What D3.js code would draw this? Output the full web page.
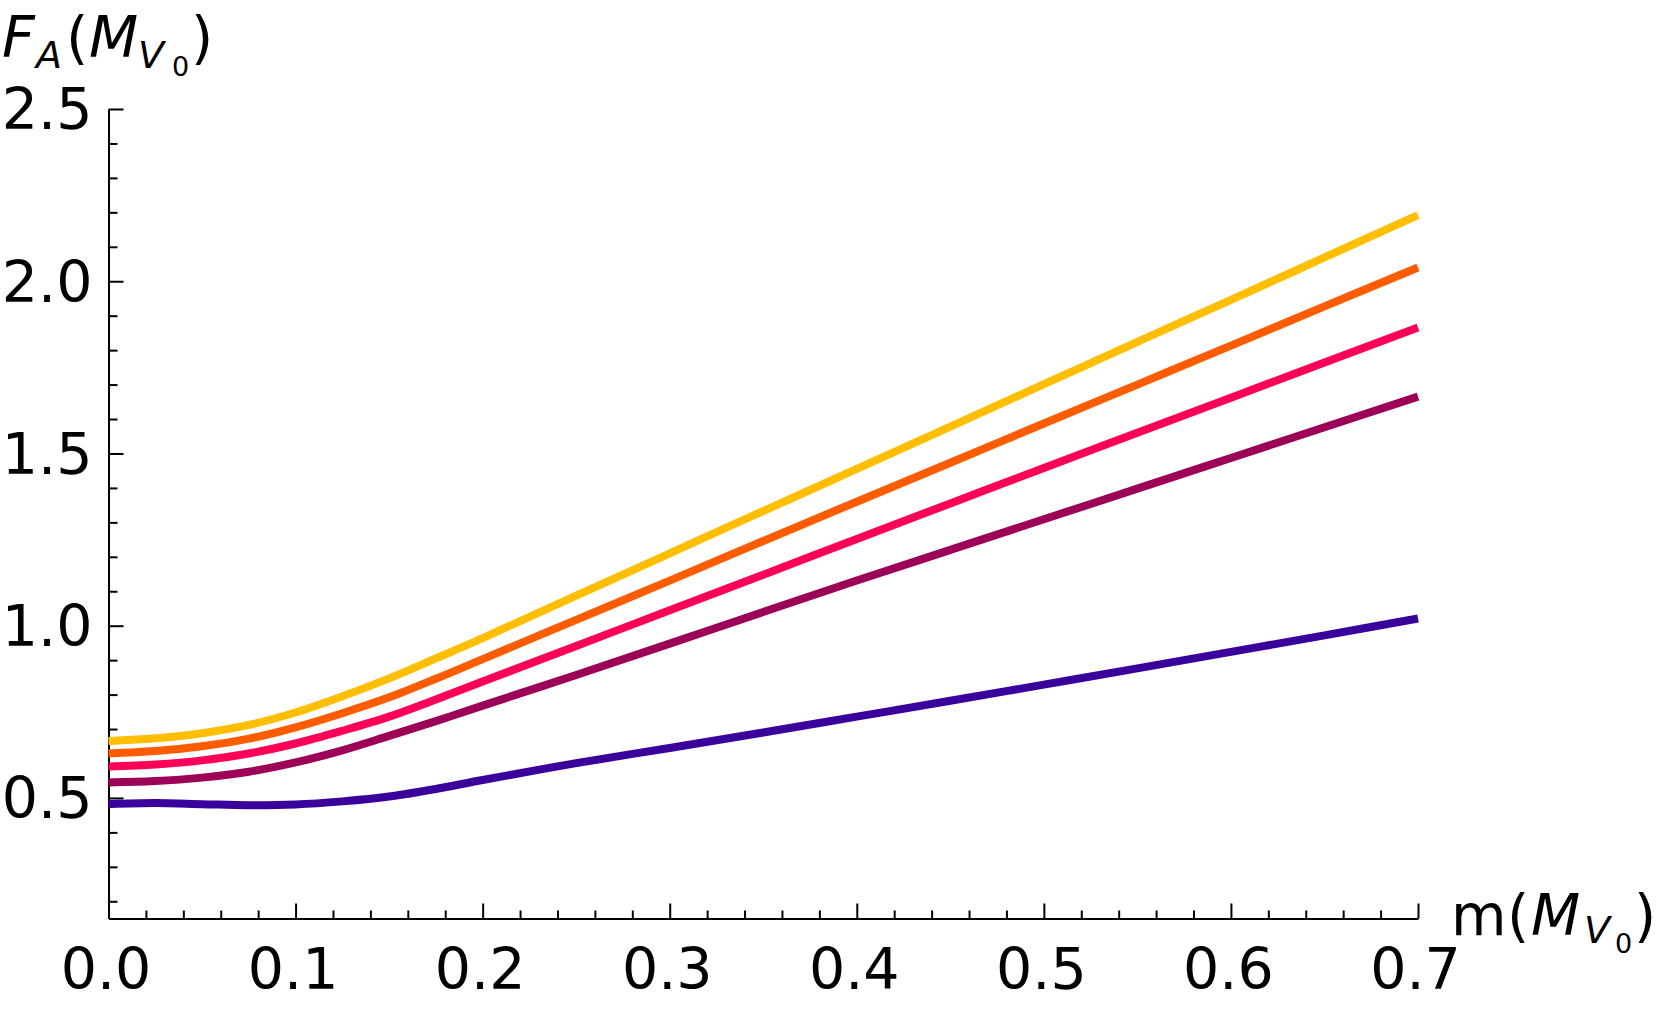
<!DOCTYPE html>
<html>
<head>
<meta charset="utf-8">
<script src="https://cdn.jsdelivr.net/npm/d3@7"></script>
<style>
  html, body { margin: 0; padding: 0; background: #fff; }
  svg { display: block; }
  text { font-family: "DejaVu Sans", sans-serif; fill: #000; }
</style>
</head>
<body>
<svg id="chart" width="1661" height="1009"></svg>
<script>
// ---- data ----
const mValues = [0, 0.025, 0.05, 0.075, 0.1, 0.125, 0.15, 0.175, 0.2, 0.25, 0.3, 0.35, 0.4, 0.45, 0.5, 0.55, 0.6, 0.65, 0.7];
const seriesYellow = [0.665, 0.673, 0.688, 0.712, 0.748, 0.795, 0.847, 0.905, 0.964, 1.087, 1.210, 1.333, 1.455, 1.578, 1.701, 1.824, 1.946, 2.069, 2.192];
const seriesOrange = [0.629, 0.636, 0.650, 0.672, 0.705, 0.746, 0.792, 0.846, 0.903, 1.017, 1.131, 1.246, 1.360, 1.473, 1.587, 1.700, 1.813, 1.927, 2.040];
const seriesPink   = [0.591, 0.597, 0.609, 0.629, 0.658, 0.695, 0.736, 0.786, 0.838, 0.941, 1.045, 1.148, 1.252, 1.355, 1.458, 1.560, 1.662, 1.764, 1.866];
const seriesPurple = [0.545, 0.549, 0.559, 0.576, 0.603, 0.638, 0.680, 0.723, 0.768, 0.857, 0.948, 1.040, 1.131, 1.220, 1.309, 1.398, 1.487, 1.576, 1.665];
const seriesBlue   = [0.482, 0.485, 0.482, 0.479, 0.481, 0.490, 0.504, 0.526, 0.552, 0.601, 0.645, 0.690, 0.736, 0.782, 0.829, 0.876, 0.924, 0.972, 1.021];
const xMajorTicks = [0, 0.1, 0.2, 0.3, 0.4, 0.5, 0.6, 0.7];
const xTickLabels = ["0.0", "0.1", "0.2", "0.3", "0.4", "0.5", "0.6", "0.7"];
const yMajorTicks = [0.5, 1.0, 1.5, 2.0, 2.5];
const yTickLabels = ["0.5", "1.0", "1.5", "2.0", "2.5"];
const seriesColors = ["#3a009c", "#9c0057", "#ff0059", "#ff5c00", "#ffbf00"];

// ---- layout ----
const svg = d3.select("#chart");
const x = d3.scaleLinear().domain([0, 0.7]).range([108.5, 1418]);
const y = d3.scaleLinear().domain([0.15, 2.5]).range([918.5, 109]);

const xMinor = d3.range(0, 0.7001, 0.02).filter(v => Math.abs(v * 10 - Math.round(v * 10)) > 1e-6);
const yMinor = d3.range(0.2, 2.5001, 0.1).filter(v => Math.abs(v * 2 - Math.round(v * 2)) > 1e-6);

// x axis
const gx = svg.append("g").attr("transform", `translate(0,${y(0.15)})`);
gx.call(d3.axisBottom(x).tickValues(xMajorTicks).tickSize(-15).tickSizeOuter(0)
  .tickPadding(30).tickFormat((d, i) => xTickLabels[i]));
const gxm = svg.append("g").attr("transform", `translate(0,${y(0.15)})`);
gxm.call(d3.axisBottom(x).tickValues(xMinor).tickSize(-8).tickSizeOuter(0).tickFormat(""));
gxm.select(".domain").remove();

// y axis
const gy = svg.append("g").attr("transform", `translate(${x(0)},0)`);
gy.call(d3.axisLeft(y).tickValues(yMajorTicks).tickSize(-15).tickSizeOuter(0)
  .tickPadding(16).tickFormat((d, i) => yTickLabels[i]));
const gym = svg.append("g").attr("transform", `translate(${x(0)},0)`);
gym.call(d3.axisLeft(y).tickValues(yMinor).tickSize(-9).tickSizeOuter(0).tickFormat(""));
gym.select(".domain").remove();

svg.selectAll(".domain, .tick line").attr("stroke", "#000").attr("stroke-width", 2);
gx.selectAll(".tick text").attr("font-size", 57).attr("font-family", "DejaVu Sans")
  .attr("dx", -3).attr("fill", "#000");
gy.selectAll(".tick text").attr("font-size", 57).attr("font-family", "DejaVu Sans")
  .attr("dy", "0.35em").attr("fill", "#000");

// lines
const allSeries = [seriesBlue, seriesPurple, seriesPink, seriesOrange, seriesYellow];
const line = d3.line()
  .x((d, i) => x(mValues[i]))
  .y(d => y(d))
  .curve(d3.curveCatmullRom.alpha(0.5));
svg.append("g").selectAll("path").data(allSeries).join("path")
  .attr("d", d => line(d))
  .attr("fill", "none")
  .attr("stroke", (d, i) => seriesColors[i])
  .attr("stroke-width", 8)
  .attr("stroke-linecap", "butt")
  .attr("stroke-linejoin", "round");

// y-axis label: F_A(M_{V_0})
const yl = svg.append("text").attr("font-size", 57);
yl.append("tspan").attr("x", 2).attr("y", 57).attr("font-style", "italic").text("F");
yl.append("tspan").attr("x", 36).attr("y", 68).attr("font-size", 38).attr("font-style", "italic").text("A");
yl.append("tspan").attr("x", 66).attr("y", 57).text("(");
yl.append("tspan").attr("x", 89).attr("y", 57).attr("font-style", "italic").text("M");
yl.append("tspan").attr("x", 138).attr("y", 68).attr("font-size", 38).attr("font-style", "italic").text("V");
yl.append("tspan").attr("x", 172).attr("y", 76).attr("font-size", 27).text("0");
yl.append("tspan").attr("x", 191).attr("y", 57).text(")");

// x-axis label: m(M_{V_0})
const xl = svg.append("text").attr("font-size", 57);
xl.append("tspan").attr("x", 1451).attr("y", 935).text("m");
xl.append("tspan").attr("x", 1507).attr("y", 935).text("(");
xl.append("tspan").attr("x", 1531).attr("y", 935).attr("font-style", "italic").text("M");
xl.append("tspan").attr("x", 1584).attr("y", 943).attr("font-size", 38).attr("font-style", "italic").text("V");
xl.append("tspan").attr("x", 1615).attr("y", 953).attr("font-size", 27).text("0");
xl.append("tspan").attr("x", 1634).attr("y", 935).text(")");
</script>
</body>
</html>
